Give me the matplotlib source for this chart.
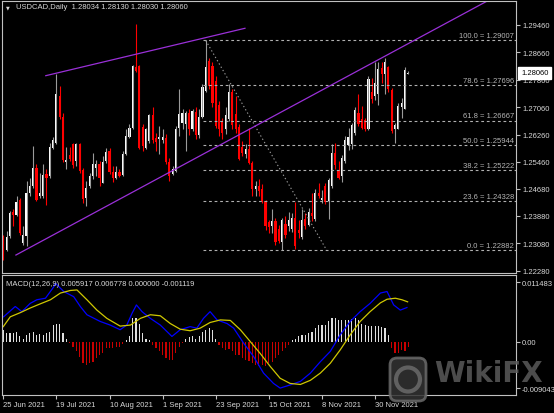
import numpy as np
import matplotlib
matplotlib.use('Agg')
import matplotlib.pyplot as plt
from matplotlib.patches import FancyBboxPatch, Circle

plt.rcParams['font.family'] = ['Liberation Sans', 'DejaVu Sans']

# ---- daily candles (bar index 0 = 25 Jun 2021) ----
opens = [
    1.2324, 1.2290, 1.2329, 1.2399, 1.2392, 1.2434, 1.2309, 1.2329, 1.2456, 1.2475,
    1.2529, 1.2446, 1.2446, 1.2512, 1.2504, 1.2588, 1.2602, 1.2739, 1.2678, 1.2546,
    1.2565, 1.2597, 1.2548, 1.2597, 1.2522, 1.2441, 1.2475, 1.2504, 1.2529, 1.2541,
    1.2485, 1.2548, 1.2578, 1.2516, 1.2500, 1.2516, 1.2509, 1.2568, 1.2620, 1.2646,
    1.2822, 1.2825, 1.2649, 1.2588, 1.2607, 1.2682, 1.2617, 1.2612, 1.2610, 1.2617,
    1.2546, 1.2512, 1.2519, 1.2646, 1.2659, 1.2656, 1.2688, 1.2641, 1.2692, 1.2624,
    1.2678, 1.2754, 1.2841, 1.2825, 1.2783, 1.2711, 1.2666, 1.2641, 1.2671, 1.2751,
    1.2685, 1.2649, 1.2590, 1.2568, 1.2585, 1.2543, 1.2467, 1.2475, 1.2467, 1.2431,
    1.2370, 1.2358, 1.2373, 1.2350, 1.2311, 1.2366, 1.2358, 1.2350, 1.2382, 1.2348,
    1.2327, 1.2379, 1.2363, 1.2397, 1.2379, 1.2456, 1.2434, 1.2477, 1.2431, 1.2477,
    1.2571, 1.2522, 1.2504, 1.2548, 1.2594, 1.2597, 1.2629, 1.2688, 1.2672, 1.2669,
    1.2641, 1.2749, 1.2739, 1.2744, 1.2819, 1.2802, 1.2822, 1.2756, 1.2641, 1.2643,
    1.2705, 1.2702, 1.28034]
highs = [
    1.2333, 1.2343, 1.2402, 1.2407, 1.2446, 1.2441, 1.2358, 1.2490, 1.2500, 1.2592,
    1.2539, 1.2514, 1.2539, 1.2524, 1.2602, 1.2620, 1.2802, 1.2768, 1.2690, 1.2590,
    1.2590, 1.2602, 1.2602, 1.2602, 1.2529, 1.2490, 1.2514, 1.2573, 1.2553, 1.2548,
    1.2563, 1.2588, 1.2588, 1.2534, 1.2534, 1.2524, 1.2578, 1.2641, 1.2658, 1.2829,
    1.2949, 1.2829, 1.2656, 1.2646, 1.2685, 1.2705, 1.2631, 1.2651, 1.2641, 1.2627,
    1.2558, 1.2534, 1.2651, 1.2760, 1.2700, 1.2695, 1.2700, 1.2700, 1.2705, 1.2700,
    1.2773, 1.2901, 1.2851, 1.2837, 1.2797, 1.2724, 1.2675, 1.2705, 1.2773, 1.2758,
    1.2739, 1.2656, 1.2607, 1.2597, 1.2646, 1.2548, 1.2490, 1.2495, 1.2480, 1.2436,
    1.2377, 1.2407, 1.2382, 1.2363, 1.2382, 1.2387, 1.2399, 1.2397, 1.2428, 1.2377,
    1.2407, 1.2397, 1.2412, 1.2456, 1.2467, 1.2485, 1.2465, 1.2483, 1.2500, 1.2597,
    1.2602, 1.2548, 1.2565, 1.2622, 1.2646, 1.2661, 1.2705, 1.2744, 1.2710, 1.2675,
    1.2797, 1.2790, 1.2837, 1.2837, 1.2837, 1.2851, 1.2827, 1.2763, 1.2661, 1.2717,
    1.2734, 1.2822, 1.28130]
lows = [
    1.2260, 1.2285, 1.2324, 1.2358, 1.2387, 1.2333, 1.2304, 1.2299, 1.2446, 1.2470,
    1.2431, 1.2441, 1.2441, 1.2421, 1.2500, 1.2583, 1.2597, 1.2672, 1.2546, 1.2526,
    1.2548, 1.2529, 1.2534, 1.2514, 1.2426, 1.2417, 1.2470, 1.2495, 1.2504, 1.2475,
    1.2483, 1.2543, 1.2512, 1.2487, 1.2495, 1.2502, 1.2506, 1.2565, 1.2617, 1.2643,
    1.2809, 1.2585, 1.2578, 1.2583, 1.2602, 1.2602, 1.2578, 1.2568, 1.2602, 1.2539,
    1.2490, 1.2509, 1.2516, 1.2622, 1.2641, 1.2578, 1.2624, 1.2636, 1.2612, 1.2617,
    1.2675, 1.2749, 1.2758, 1.2705, 1.2646, 1.2622, 1.2612, 1.2627, 1.2666, 1.2641,
    1.2631, 1.2551, 1.2563, 1.2558, 1.2539, 1.2446, 1.2446, 1.2446, 1.2426, 1.2348,
    1.2338, 1.2338, 1.2304, 1.2309, 1.2288, 1.2324, 1.2343, 1.2340, 1.2291, 1.2324,
    1.2321, 1.2350, 1.2358, 1.2372, 1.2372, 1.2441, 1.2426, 1.2424, 1.2379, 1.2470,
    1.2524, 1.2495, 1.2487, 1.2543, 1.2581, 1.2583, 1.2624, 1.2651, 1.2641, 1.2636,
    1.2639, 1.2719, 1.2727, 1.2711, 1.2776, 1.2744, 1.2749, 1.2631, 1.2602, 1.2641,
    1.2675, 1.2700, 1.28030]
closes = [
    1.2270, 1.2327, 1.2397, 1.2392, 1.2428, 1.2338, 1.2333, 1.2456, 1.2475, 1.2529,
    1.2436, 1.2454, 1.2509, 1.2500, 1.2590, 1.2609, 1.2744, 1.2678, 1.2551, 1.2551,
    1.2555, 1.2536, 1.2597, 1.2519, 1.2438, 1.2470, 1.2504, 1.2539, 1.2539, 1.2500,
    1.2546, 1.2575, 1.2516, 1.2500, 1.2517, 1.2506, 1.2568, 1.2622, 1.2646, 1.2825,
    1.2813, 1.2588, 1.2592, 1.2641, 1.2682, 1.2609, 1.2604, 1.2620, 1.2620, 1.2546,
    1.2504, 1.2526, 1.2643, 1.2685, 1.2690, 1.2690, 1.2641, 1.2695, 1.2624, 1.2678,
    1.2766, 1.2822, 1.2768, 1.2717, 1.2651, 1.2641, 1.2629, 1.2682, 1.2749, 1.2653,
    1.2641, 1.2555, 1.2571, 1.2583, 1.2543, 1.2467, 1.2477, 1.2460, 1.2431, 1.2358,
    1.2356, 1.2372, 1.2311, 1.2314, 1.2376, 1.2331, 1.2376, 1.2382, 1.2299, 1.2338,
    1.2376, 1.2358, 1.2399, 1.2387, 1.2454, 1.2446, 1.2441, 1.2428, 1.2493, 1.2571,
    1.2536, 1.2500, 1.2558, 1.2610, 1.2620, 1.2653, 1.2698, 1.2656, 1.2646, 1.2641,
    1.2788, 1.2731, 1.2776, 1.2817, 1.2802, 1.2837, 1.2760, 1.2636, 1.2653, 1.2708,
    1.2717, 1.2815, 1.28060]

# ---- MACD panel ----
hist = [
    0.0023, 0.0016, 0.0016, 0.0016, 0.0019, 0.0010, 0.0006, 0.0013, 0.0017, 0.0019,
    0.0013, 0.0015, 0.0012, 0.0016, 0.0019, 0.0032, 0.0034, 0.0034, 0.0017, 0.0006,
    -0.0003, -0.0010, -0.0019, -0.0029, -0.0042, -0.0045, -0.0042, -0.0039, -0.0032, -0.0026,
    -0.0023, -0.0013, -0.0013, -0.0013, -0.0010, -0.0010, -0.0005,
    0.0003, 0.0010, 0.0045, 0.0045, 0.0035, 0.0016, 0.0005, 0.0003,
    -0.0006, -0.0013, -0.0019, -0.0026, -0.0032, -0.0035, -0.0035, -0.0023, -0.0010, -0.0003,
    0.0006, 0.0008, 0.0011, 0.0006, 0.0010, 0.0019, 0.0023, 0.0026, 0.0023, 0.0006,
    -0.0006, -0.0013, -0.0016, -0.0015, -0.0019, -0.0026, -0.0026, -0.0032, -0.0035, -0.0037,
    -0.0041, -0.0045, -0.0048, -0.0045, -0.0048, -0.0042, -0.0039, -0.0032, -0.0026, -0.0019,
    -0.0013, -0.0006,
    0.0003, 0.0006, 0.0010, 0.0012, 0.0013, 0.0016, 0.0019, 0.0026, 0.0032, 0.0032,
    0.0032, 0.0039, 0.0045, 0.0045, 0.0042, 0.0041, 0.0042, 0.0042, 0.0043, 0.0045,
    0.0041, 0.0035, 0.0032, 0.0030, 0.0030, 0.0030, 0.0030, 0.0029, 0.0026, 0.0013,
    -0.0013, -0.0023, -0.0023, -0.0016, -0.0019, -0.0011]
macd_x = [0.1, 3.6, 5.6, 8.1, 10.1, 12.7, 15.2, 15.7, 18.2, 21.2, 23.2, 25.2, 29.2,
          32.2, 35.2, 37.2, 38.8, 40.1, 41.8, 44.3, 47.3, 50.8, 53.3, 56.3, 58.3,
          60.3, 62.3, 64.4, 67.4, 69.4, 72.4, 75.4, 78.4, 81.4, 83.4, 86.4, 89.5,
          92.5, 95.5, 98.5, 101.5, 104.5, 107.5, 110.5, 113.6, 115.6, 117.6, 119.6, 121.6]
macd_main = [0.0048, 0.0068, 0.0058, 0.0074, 0.0081, 0.0084, 0.0106, 0.0113, 0.0097,
             0.0087, 0.0068, 0.0052, 0.0039, 0.0032, 0.0023, 0.0032, 0.0055, 0.0071,
             0.0058, 0.0045, 0.0032, 0.0010, 0.0023, 0.0029, 0.0026, 0.0045, 0.0058,
             0.0042, 0.0035, 0.0026, -0.0003, -0.0029, -0.0061, -0.0081, -0.0090,
             -0.0084, -0.0077, -0.0061, -0.0039, -0.0019, 0.0013, 0.0039, 0.0058,
             0.0074, 0.0094, 0.0097, 0.0071, 0.0061, 0.0066]
signal_x = [0, 2.1, 5.1, 8.1, 11.1, 14.2, 17.2, 20.2, 22.2, 25.2, 28.2, 31.2, 35.2,
            38.3, 41.3, 44.3, 47.3, 50.3, 53.3, 56.3, 59.3, 62.3, 65.4, 68.4, 71.4,
            74.4, 77.4, 80.4, 83.4, 86.4, 89.5, 92.5, 95.5, 98.5, 101.5, 104.5, 107.5,
            110.5, 113.6, 115.6, 118.1, 120.1, 121.8]
macd_signal = [0.0029, 0.0048, 0.0056, 0.0065, 0.0073, 0.0081, 0.0094, 0.0099, 0.0100,
               0.0081, 0.0061, 0.0045, 0.0030, 0.0032, 0.0045, 0.0052, 0.0050, 0.0035,
               0.0024, 0.0021, 0.0026, 0.0037, 0.0042, 0.0041, 0.0023, 0.0000, -0.0023,
               -0.0048, -0.0071, -0.0081, -0.0083, -0.0075, -0.0061, -0.0042, -0.0016,
               0.0013, 0.0039, 0.0058, 0.0075, 0.0082, 0.0084, 0.0081, 0.0077]

# ---- axis labels / drawing objects ----
date_idx = [0, 16, 32, 48, 64, 80, 96, 112]
date_labels = ['25 Jun 2021', '19 Jul 2021', '10 Aug 2021', '1 Sep 2021',
               '23 Sep 2021', '15 Oct 2021', '8 Nov 2021', '30 Nov 2021']
price_ticks = [1.29460, 1.28660, 1.27860, 1.27060, 1.26260, 1.25460,
               1.24680, 1.23880, 1.23080, 1.22280]
price_labels = ['1.29460', '1.28660', '1.27860', '1.27060', '1.26260', '1.25460',
                '1.24680', '1.23880', '1.23080', '1.22280']
fib_pct = ['100.0', '78.6', '61.8', '50.0', '38.2', '23.6', '0.0']
fib_levels = [1.29007, 1.27696, 1.26667, 1.25944, 1.25222, 1.24328, 1.22882]
fib_anchor_x = [61, 97.4]
upper_line_x = [12.8, 72.8]
upper_line_y = [1.27979, 1.29364]
lower_line_x = [3.8, 89.4]
lower_line_y = [1.22739, 1.27213]

W, H = 554, 414
GRID = '#c0c0c0'
TXT = '#d8d8d8'
FS = 5.5

fig = plt.figure(figsize=(W / 100, H / 100), dpi=100, facecolor='black')


def box(x0, y0, x1, y1):
    return [x0 / W, 1 - y1 / H, (x1 - x0) / W, (y1 - y0) / H]


ax = fig.add_axes(box(2, 2, 515.5, 274), facecolor='black')
mx = fig.add_axes(box(2, 276, 515.5, 396), facecolor='black')
for a in (ax, mx):
    a.set_xlim(-0.39, 154.3)
    for s in a.spines.values():
        s.set_color(GRID)
        s.set_linewidth(0.8)

# candles
o, h, l, c = map(np.array, (opens, highs, lows, closes))
idx = np.arange(len(c))
up = c >= o
ax.vlines(idx[up], l[up], h[up], color='#9a9a9a', lw=0.8)
ax.vlines(idx[~up], l[~up], h[~up], color='#ff0000', lw=0.8)
bot = np.minimum(o, c)
hgt = np.maximum(np.abs(c - o), 0.00008)
ax.bar(idx[up], hgt[up], 0.65, bot[up], color='white', lw=0)
ax.bar(idx[~up], hgt[~up], 0.65, bot[~up], color='#ff0000', lw=0)

# fibonacci retracement
ax.hlines(fib_levels, 60.3, 154.3, colors='#b0b0b0', lw=0.8, linestyles=(0, (2.5, 2.5)))
ax.plot(fib_anchor_x, [fib_levels[0], fib_levels[-1]], color='#9a9a9a', lw=0.8,
        ls=(0, (1.2, 2.2)))
for pct, lev in zip(fib_pct, fib_levels):
    ax.annotate(f'{pct} = {lev:.5f}', xy=(153.8, lev), xytext=(0, 0.8),
                textcoords='offset points', ha='right', va='bottom',
                fontsize=FS, color='#b4b4b4')

# channel lines
TL = '#9a30d8'
ax.plot(upper_line_x, upper_line_y, color=TL, lw=0.9)
slope = (lower_line_y[1] - lower_line_y[0]) / (lower_line_x[1] - lower_line_x[0])
ax.plot([lower_line_x[0], 160], [lower_line_y[0], lower_line_y[0] + slope * (160 - lower_line_x[0])],
        color=TL, lw=0.9)

ax.set_ylim(1.22214, 1.30161)
ax.yaxis.tick_right()
ax.set_yticks(price_ticks)
ax.set_yticklabels(price_labels)
ax.set_xticks([])
ax.tick_params(axis='y', colors=GRID, labelcolor=TXT, labelsize=FS, length=3, width=0.8, pad=2)

ax.annotate('1.28060', xy=(1.0, 1.2806), xycoords=('axes fraction', 'data'),
            xytext=(4, 0), textcoords='offset points', ha='left', va='center',
            fontsize=FS, color='black', annotation_clip=False, zorder=10,
            bbox=dict(boxstyle='square,pad=0.35', fc='white', ec='white'))

# MACD
hv = np.array(hist)
hi = np.arange(len(hv))
mx.bar(hi[hv >= 0], hv[hv >= 0], 0.35, color='#dedede', lw=0)
mx.bar(hi[hv < 0], hv[hv < 0], 0.35, color='#c80000', lw=0)
mx.plot(macd_x, macd_main, color='#0000ff', lw=0.9)
mx.plot(signal_x, macd_signal, color='#d0c800', lw=0.9)
mx.set_ylim(-0.01034, 0.012896)
mx.yaxis.tick_right()
mx.set_yticks([0.011483, 0.0, -0.009043])
mx.set_yticklabels(['0.011483', '0.00', '-0.009043'])
mx.tick_params(axis='y', colors=GRID, labelcolor=TXT, labelsize=FS, length=3, width=0.8, pad=1.2)
mx.set_xticks(date_idx)
mx.set_xticklabels(date_labels, ha='left')
mx.tick_params(axis='x', colors=GRID, labelcolor=TXT, labelsize=FS, length=3, width=0.8, pad=1)

# header texts
fig.text(6 / W, 1 - 7.5 / H, '\u25bc', fontsize=3.5, color=TXT, va='center',
         family='DejaVu Sans')
fig.text(15.5 / W, 1 - 7.5 / H, 'USDCAD,Daily  1.28034 1.28130 1.28030 1.28060',
         fontsize=FS, color=TXT, va='center')
fig.text(6 / W, 1 - 284.3 / H, 'MACD(12,26,9) 0.005917 0.006778 0.000000 -0.001119',
         fontsize=FS, color=TXT, va='center')

# watermark
fig.patches.append(FancyBboxPatch((3.90, 0.12), 0.36, 0.43,
                                  boxstyle='round,pad=0,rounding_size=0.07',
                                  transform=fig.dpi_scale_trans, fc='#333333',
                                  ec='#6a6a6a', lw=2, alpha=0.85))
fig.patches.append(Circle((4.08, 0.335), 0.12, transform=fig.dpi_scale_trans,
                          fc='none', ec='#6a6a6a', lw=3, alpha=0.85))
fig.text(434 / W, 1 - 374 / H, 'WikiFX', fontsize=20, weight='bold',
         color='#5a5a5a', va='center', family='DejaVu Sans', alpha=0.85)

fig.savefig('out.png', dpi=100, facecolor='black')
